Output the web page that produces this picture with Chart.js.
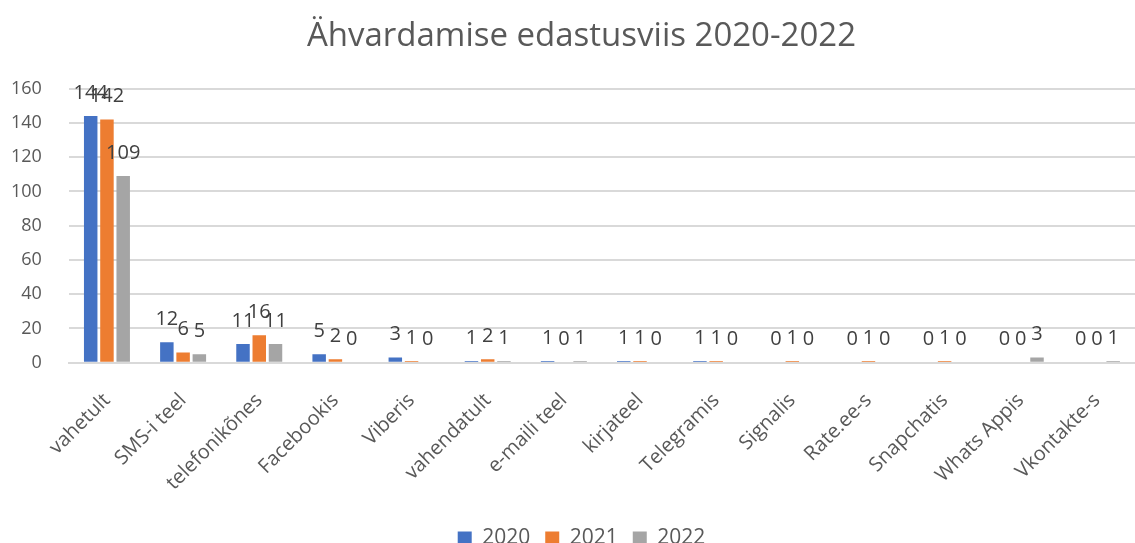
<!DOCTYPE html>
<html>
<head>
<meta charset="utf-8">
<script src="https://cdn.jsdelivr.net/npm/chart.js@4"></script>
<style>
  body { margin: 0; background: #fff; }
  #wrap { width: 1135px; height: 543px; }
</style>
</head>
<body>
<div id="wrap"><canvas id="myChart"></canvas></div>
<script>
const categories = [
  "vahetult", "SMS-i teel", "telefonikõnes", "Facebookis", "Viberis",
  "vahendatult", "e-maili teel", "kirjateel", "Telegramis", "Signalis",
  "Rate.ee-s", "Snapchatis", "Whats Appis", "Vkontakte-s"
];
const values2020 = [144, 12, 11, 5, 3, 1, 1, 1, 1, 0, 0, 0, 0, 0];
const values2021 = [142, 6, 16, 2, 1, 2, 0, 1, 1, 1, 1, 1, 0, 0];
const values2022 = [109, 5, 11, 0, 0, 1, 1, 0, 0, 0, 0, 0, 3, 1];
const yTicks = [0, 20, 40, 60, 80, 100, 120, 140, 160];

const fontFamily = "'Open Sans', 'Noto Sans', sans-serif";
const textColor = "#595959";

// values above the bars, like excel data labels
const barLabels = {
  id: "barLabels",
  afterDatasetsDraw(chart) {
    const ctx = chart.ctx;
    ctx.save();
    ctx.font = "20px " + fontFamily;
    ctx.fillStyle = "#404040";
    ctx.textAlign = "center";
    ctx.textBaseline = "bottom";
    chart.data.datasets.forEach((ds, i) => {
      chart.getDatasetMeta(i).data.forEach((bar, j) => {
        ctx.fillText(String(ds.data[j]), bar.x, bar.y - 13);
      });
    });
    ctx.restore();
  }
};

const data = {
  labels: categories,
  datasets: [
    { label: "2020", backgroundColor: "#4472C4", data: values2020 },
    { label: "2021", backgroundColor: "#ED7D31", data: values2021 },
    { label: "2022", backgroundColor: "#A5A5A5", data: values2022 },
  ],
};

Chart.defaults.font.family = fontFamily;
Chart.defaults.color = textColor;

const config = {
  type: "bar",
  data: data,
  options: {
    responsive: true,
    maintainAspectRatio: false,
    animation: false,
    categoryPercentage: 0.64,
    barPercentage: 0.83,
    // the original is cropped on the right, so the plot runs past the edge
    layout: { padding: { left: -16, right: -44, top: 0, bottom: -16 } },
    plugins: {
      legend: {
        position: "bottom",
        labels: {
          boxWidth: 14,
          boxHeight: 14,
          font: { size: 21 },
          padding: 15,
        },
      },
      title: {
        display: true,
        text: "Ähvardamise edastusviis 2020-2022",
        font: { size: 33, weight: "normal" },
        padding: { top: 17, bottom: 32 },
      },
      tooltip: { enabled: false },
    },
    scales: {
      x: {
        grid: { display: false },
        border: { color: "#d9d9d9", width: 2 },
        ticks: {
          font: { size: 20 },
          maxRotation: 45,
          minRotation: 45,
          padding: 18,
        },
        // let the first rotated label run under the y labels, as in the original
        afterFit: (axis) => { axis.paddingLeft = 0; axis.paddingRight = 0; },
      },
      y: {
        min: 0,
        max: 160,
        afterBuildTicks: (axis) => { axis.ticks = yTicks.map((v) => ({ value: v })); },
        grid: { color: "#d9d9d9", lineWidth: 2, drawTicks: false },
        border: { display: false },
        ticks: { font: { size: 18 }, padding: 27 },
      },
    },
  },
  plugins: [barLabels],
};

const myChart = new Chart(document.getElementById("myChart"), config);
</script>
</body>
</html>
